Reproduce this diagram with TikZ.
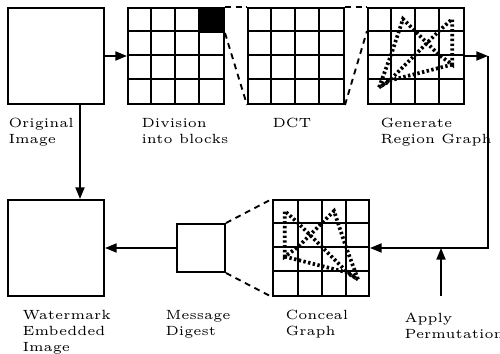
\documentclass[tikz,border=0pt]{standalone}
\usetikzlibrary{arrows.meta}
\tikzset{
	box/.style={draw, line width=0.75pt, inner sep=0pt},
	lbl/.style={anchor=north west, inner sep=0pt, align=left, font=\tiny},
	arr/.style={line width=0.75pt, -{Triangle[length=4.4pt,width=3.4pt]}},
	zoomline/.style={line width=0.7pt, dash pattern=on 2.2pt off 1.8pt},
	rgraph/.style={line width=1.4pt, dash pattern=on 0.9pt off 0.9pt},
}
\begin{document}
\begin{tikzpicture}[x=0.375pt, y=-0.375pt]
	\useasboundingbox (0,0) rectangle (500,354);
	\node (orig) [box, minimum size=36pt] at (56,56) {};
	\node (div) [box, minimum size=36pt] at (176,56) {};
	\node (dct) [box, minimum size=36pt] at (296,56) {};
	\node (gen) [box, minimum size=36pt] at (416,56) {};
	\node (wm) [box, minimum size=36pt] at (56,248) {};
	\node (msg) [box, minimum size=18pt] at (201,248) {};
	\node (con) [box, minimum size=36pt] at (321,248) {};
	\node (blk) [box, fill=black, minimum size=9pt, anchor=north east] at (div.north east) {};
	\foreach \g/\a/\s in {div/north west/9pt, dct/north west/9pt, gen/north west/9pt, con/north east/-9pt} {
		\begin{scope}[shift={(\g.\a)}, x=\s, y=-9pt]
			\foreach \k in {1,2,3} {
				\draw[line width=0.75pt] (\k,0) -- (\k,4);
				\draw[line width=0.75pt] (0,\k) -- (4,\k);
			}
		\end{scope}
	}
	\foreach \g/\a/\s in {gen/north west/9pt, con/north east/-9pt} {
		\begin{scope}[shift={(\g.\a)}, x=\s, y=-9pt]
			\draw[rgraph] (0.5,3.35) -- (1,2) -- (1.5,0.5) -- (2,1) -- (3,2) -- (3.55,2.4) -- (3.55,0.5)
				-- (3,1) -- (2,2) -- (1,3) -- cycle;
			\draw[rgraph] (3.55,2.4) -- (1,3.05) -- (0.5,3.35);
		\end{scope}
	}
	\coordinate (gc) at ([yshift=-9pt]gen.north west);
	\draw[zoomline] (blk.north east) -- (dct.north west);
	\draw[zoomline] (blk.south east) -- (dct.south west);
	\draw[zoomline] (dct.north east) -- (gen.north west);
	\draw[zoomline] (dct.south east) -- (gc);
	\draw[zoomline] (msg.north east) -- (con.north west);
	\draw[zoomline] (msg.south east) -- (con.south west);
	\coordinate (tr) at (488,56);
	\coordinate (br) at (488,248);
	\coordinate (pa) at (441,296);
	\draw[arr] (orig) -- (div);
	\draw[arr] (gen) -- (tr);
	\draw[arr] (tr) -- (br) -- (con);
	\draw[arr] (pa) -- (pa |- br);
	\draw[arr] (msg) -- (wm);
	\draw[arr] ([xshift=9pt]orig.south) -- ([xshift=9pt]wm.north);
	\node (origl) [lbl] at (8,118) {Original\\Image};
	\node (divl) [lbl] at (141,118) {Division\\into blocks};
	\node (dctl) [lbl] at (272,118) {DCT};
	\node (genl) [lbl] at (380,118) {Generate\\Region Graph};
	\node (wml) [lbl] at (22,310) {Watermark\\Embedded\\Image};
	\node (msgl) [lbl] at (165,310) {Message\\Digest};
	\node (conl) [lbl] at (285,310) {Conceal\\Graph};
	\node (appl) [lbl] at (404,312) {Apply\\Permutation};
\end{tikzpicture}
\end{document}
